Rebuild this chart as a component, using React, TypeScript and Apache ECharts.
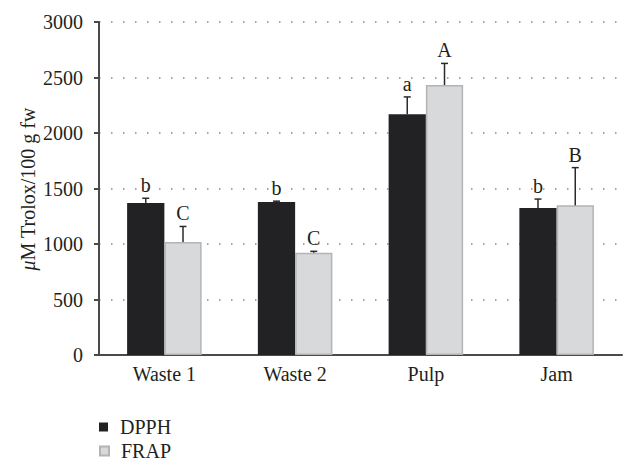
import React, { useEffect, useRef } from "react";
import * as echarts from "echarts";

const categories = ["Waste 1", "Waste 2", "Pulp", "Jam"];
const dpph = [1370, 1378, 2170, 1325];
const frap = [1018, 922, 2432, 1348];
const dpphSd = [42, 8, 155, 80];
const frapSd = [140, 12, 195, 340];
const dpphLetters = ["b", "b", "a", "b"];
const frapLetters = ["C", "C", "A", "B"];
const yTicks = [0, 500, 1000, 1500, 2000, 2500, 3000];

const FONT = "Liberation Serif";
const FS = 20;
const BAR_FRACTION = 0.57;

function errorSeries(name: string, values: number[], sds: number[], letters: string[], side: number) {
  return {
    type: "custom",
    name,
    z: 5,
    silent: true,
    data: values.map((v, i) => [i, v, v + sds[i]]),
    renderItem: (params: any, api: any) => {
      const idx = api.value(0);
      const band = api.size([1, 0])[0];
      const bw = (band * BAR_FRACTION) / 2;
      const base = api.coord([idx, api.value(1)]);
      const top = api.coord([idx, api.value(2)]);
      const x = base[0] + (side * bw) / 2;
      const cap = 3.5;
      return {
        type: "group",
        children: [
          { type: "line", shape: { x1: x, y1: base[1], x2: x, y2: top[1] }, style: { stroke: "#2a2a2a", lineWidth: 1.5 } },
          { type: "line", shape: { x1: x - cap, y1: top[1], x2: x + cap, y2: top[1] }, style: { stroke: "#2a2a2a", lineWidth: 1.5 } },
          {
            type: "text",
            x: x,
            y: top[1] - 13,
            style: {
              text: letters[params.dataIndex],
              fontFamily: FONT,
              fontSize: FS,
              fill: "#231f20",
              align: "center",
              verticalAlign: "middle",
            },
          },
        ],
      };
    },
  };
}

const legendBase = {
  left: 99,
  icon: "rect",
  itemWidth: 9,
  itemHeight: 9,
  padding: 0,
  textStyle: { fontFamily: FONT, fontSize: FS, lineHeight: 20, color: "#231f20", padding: [0, 0, 0, 7] },
};

export default function App() {
  const ref = useRef<HTMLDivElement>(null);
  useEffect(() => {
    if (!ref.current) return;
    const chart = echarts.init(ref.current, undefined, { renderer: "svg" });
    chart.setOption({
      animation: false,
      backgroundColor: "#ffffff",
      textStyle: { fontFamily: FONT },
      grid: { left: 99, right: 1, top: 22, bottom: 106 },
      legend: [
        { ...legendBase, top: 417, data: ["DPPH"] },
        { ...legendBase, top: 441, data: ["FRAP"] },
      ],
      xAxis: {
        type: "category",
        data: categories,
        axisLine: { lineStyle: { color: "#4a4a4a", width: 2 } },
        axisTick: { show: false },
        axisLabel: { fontFamily: FONT, fontSize: FS, color: "#231f20", margin: 9 },
      },
      yAxis: {
        type: "value",
        min: 0,
        max: 3000,
        interval: 500,
        axisLine: { show: true, lineStyle: { color: "#4a4a4a", width: 2 } },
        axisTick: { show: true, length: 5, lineStyle: { color: "#4a4a4a", width: 2 } },
        axisLabel: {
          fontFamily: FONT,
          fontSize: FS,
          color: "#231f20",
          margin: 16,
          formatter: (v: number) => (yTicks.includes(v) ? String(v) : ""),
        },
        splitLine: { show: true, lineStyle: { color: "#8a8a8a", width: 1.5, type: [1.5, 10.5] } },
      },
      graphic: [
        {
          type: "text",
          x: 28,
          y: 189,
          rotation: Math.PI / 2,
          style: {
            text: "{i|μ}M Trolox/100 g fw",
            fontFamily: FONT,
            fontSize: FS,
            fill: "#231f20",
            align: "center",
            verticalAlign: "middle",
            rich: { i: { fontFamily: FONT, fontStyle: "italic", fontSize: FS, fill: "#231f20" } },
          },
        },
      ],
      series: [
        {
          type: "bar",
          name: "DPPH",
          data: dpph,
          barGap: "0%",
          barCategoryGap: "43%",
          itemStyle: { color: "#222224" },
        },
        {
          type: "bar",
          name: "FRAP",
          data: frap,
          itemStyle: { color: "#d8d9db", borderColor: "#b3b4b6", borderWidth: 1.5 },
        },
        errorSeries("DPPH err", dpph, dpphSd, dpphLetters, -1),
        errorSeries("FRAP err", frap, frapSd, frapLetters, 1),
      ],
    });
    return () => chart.dispose();
  }, []);
  return <div ref={ref} style={{ position: "fixed", top: 0, left: 0, width: 623, height: 461 }} />;
}
